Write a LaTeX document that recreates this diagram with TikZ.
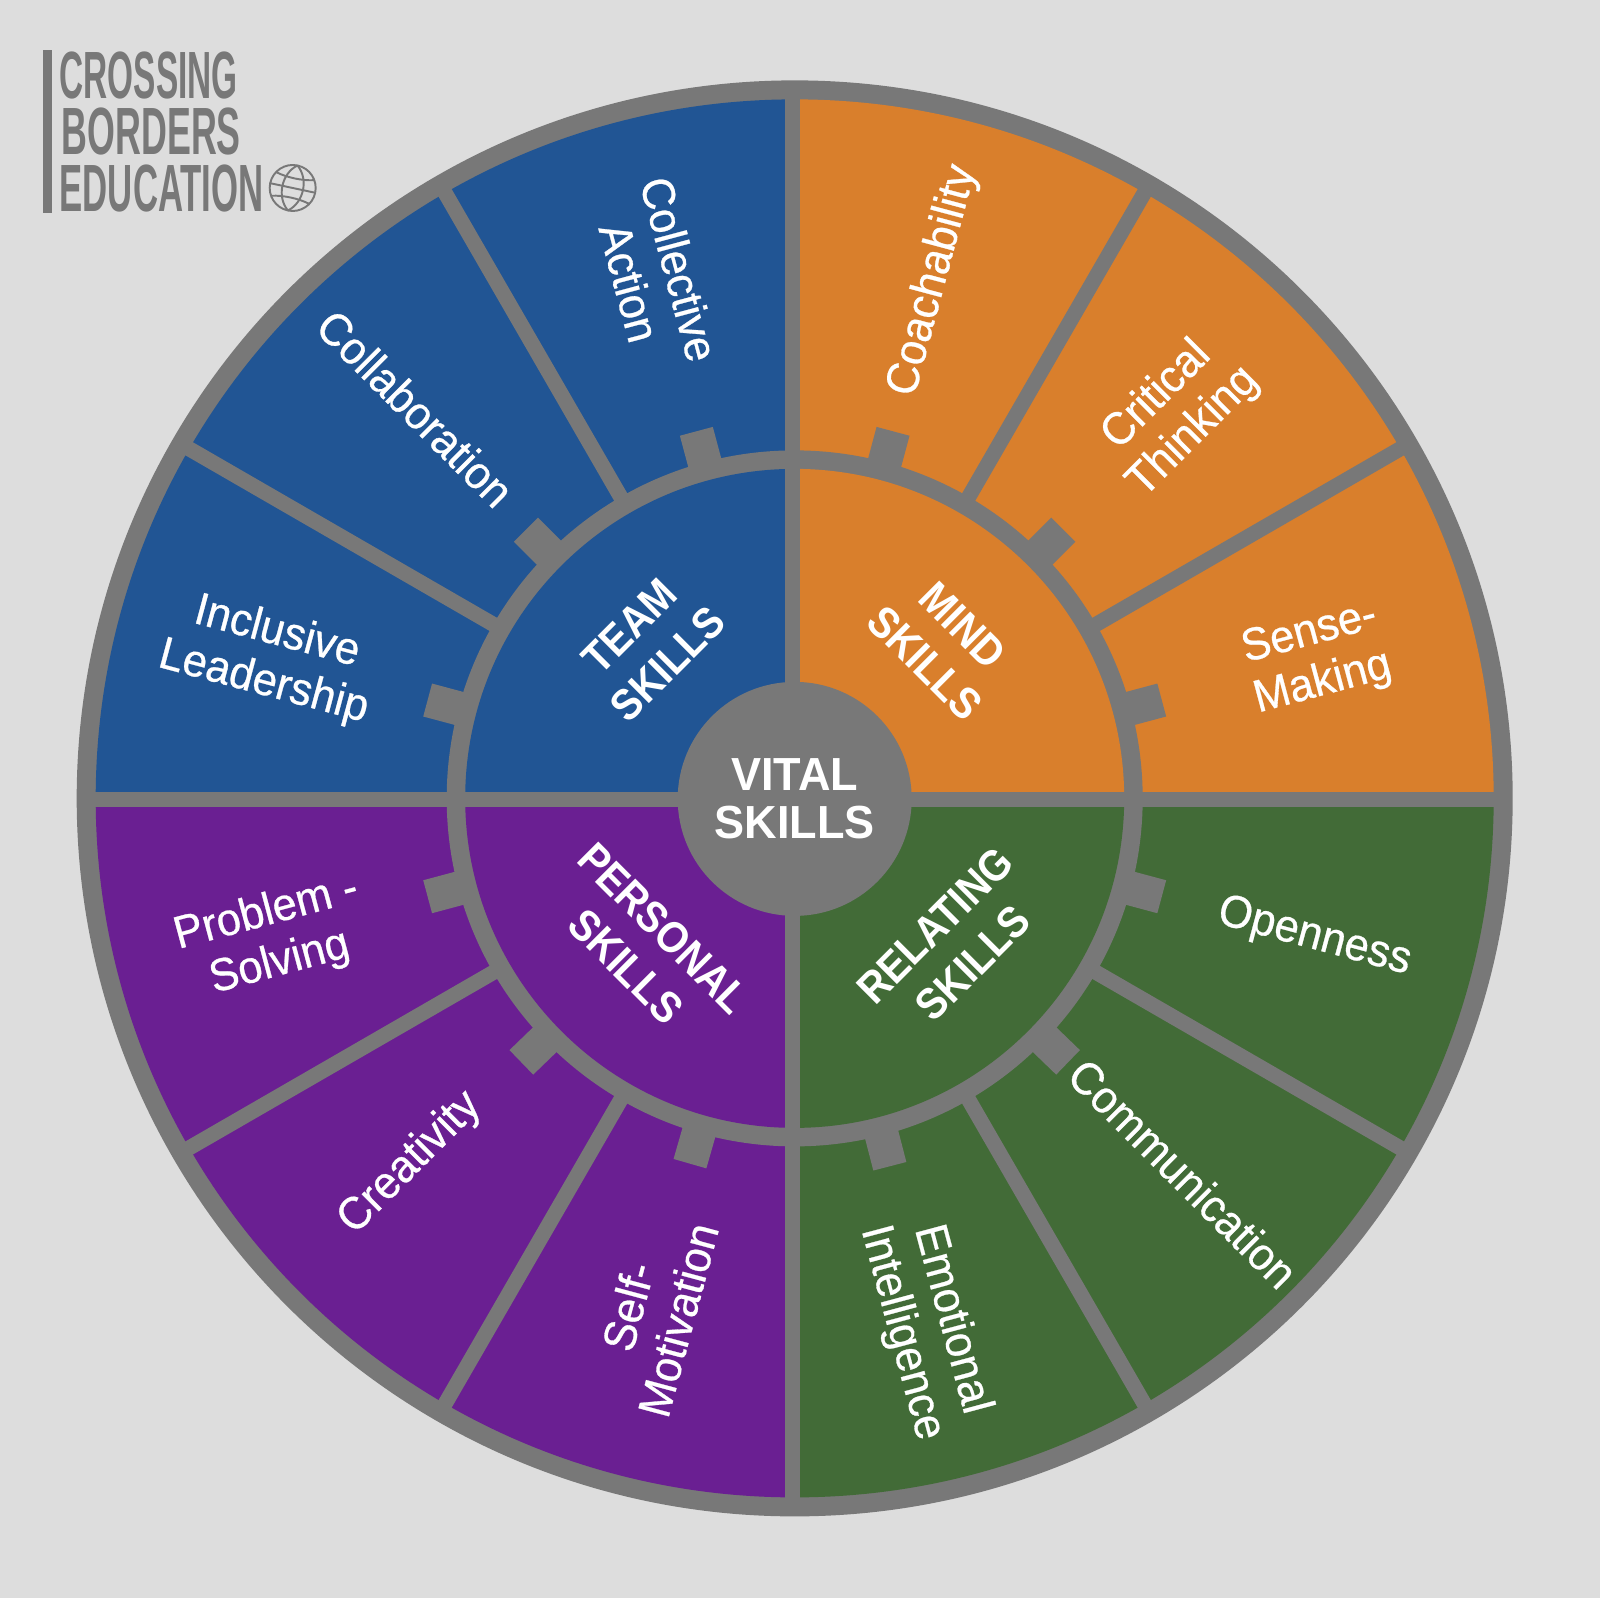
\documentclass[tikz,border=0pt]{standalone}
\usepackage{fontspec}
\setmainfont{Liberation Sans}[FakeBold=0.6, FakeStretch=0.95]
\newfontfamily\centrefont{Liberation Sans Bold}[FakeStretch=0.97]
\newfontfamily\headfont{Liberation Sans Bold}[FakeStretch=0.9]
\newfontfamily\logofont{Liberation Sans Bold}[FakeStretch=0.5]
\newfontfamily\logofontb{Liberation Sans Bold}[FakeStretch=0.536]
\newfontfamily\logofontc{Liberation Sans Bold}[FakeStretch=0.52]
\definecolor{pagegrey}{HTML}{DDDDDD}
\definecolor{wheelgrey}{HTML}{787878}
\definecolor{mindorange}{HTML}{D97F2C}
\definecolor{teamblue}{HTML}{215594}
\definecolor{relatinggreen}{HTML}{426B37}
\definecolor{personalpurple}{HTML}{6A1F92}
\tikzset{
  skill/.style={text=white, align=center, inner sep=0pt, font=\fontsize{13}{14.7}\selectfont},
  heading/.style={text=white, align=center, inner sep=0pt, font=\headfont\fontsize{12.5}{15.2}\selectfont},
  logoline/.style={text=wheelgrey, anchor=west, inner sep=0pt},
  spoke/.style={wheelgrey, line width=4.3pt},
  tab/.style={wheelgrey, line width=9.7pt},
  globeline/.style={wheelgrey, line width=0.55pt}
}
\begin{document}
\begin{tikzpicture}[x=0.01cm, y=0.01cm]
  \useasboundingbox (-794.7,-799.6) rectangle (805.3,798.4);
  \fill[pagegrey] (-794.7,-799.6) rectangle (805.3,798.4);

  % wheel
  \fill[wheelgrey] (0,0) circle (718);
  \fill[mindorange] (0,0) -- (699,0) arc (0:90:699) -- cycle;
  \fill[teamblue] (0,0) -- (0,699) arc (90:180:699) -- cycle;
  \fill[personalpurple] (0,0) -- (-699,0) arc (180:270:699) -- cycle;
  \fill[relatinggreen] (0,0) -- (0,-699) arc (270:360:699) -- cycle;

  % spokes and tabs
  \foreach \ang in {30,60,120,150,210,240,300,330}
    \draw[spoke] (\ang:340) -- (\ang:706);
  \foreach \ang in {15,45,75,105,135,165,195,224,254,284.5,316,345}
    \draw[tab] (\ang:340) -- (\ang:380);

  % inner ring
  \fill[wheelgrey] (0,0) circle (348);
  \fill[mindorange] (0,0) -- (329.5,0) arc (0:90:329.5) -- cycle;
  \fill[teamblue] (0,0) -- (0,329.5) arc (90:180:329.5) -- cycle;
  \fill[personalpurple] (0,0) -- (-329.5,0) arc (180:270:329.5) -- cycle;
  \fill[relatinggreen] (0,0) -- (0,-329.5) arc (270:360:329.5) -- cycle;
  \draw[wheelgrey, line width=4.3pt] (-706,-0.8) -- (706,-0.8);
  \draw[wheelgrey, line width=4.35pt] (-2.4,-706) -- (-2.4,706);
  \fill[wheelgrey] (0,-0.5) circle (117);

  % centre and headings
  \node[heading, font=\centrefont\fontsize{13.2}{13.6}\selectfont] (vital) at (0,0) {VITAL\\SKILLS};
  \node[heading, rotate=-45] (mind) at (149,154) {MIND\\SKILLS};
  \node[heading, rotate=45] (team) at (-146,153) {TEAM\\SKILLS};
  \node[heading, rotate=45] (relating) at (159,-146) {RELATING\\SKILLS};
  \node[heading, rotate=-45] (personal) at (-150,-149) {PERSONAL\\SKILLS};

  % skills
  \node[skill, rotate=75] (coach) at (75:536) {Coachability};
  \node[skill, rotate=45] (critical) at (45.3:541) {Critical\\Thinking};
  \node[skill, rotate=15] (sense) at (15:540) {Sense-\\Making};
  \node[skill, rotate=-15] (open) at (-15:538) {Openness};
  \node[skill, rotate=-45] (comm) at (-44:540) {Communication};
  \node[skill, rotate=-75] (emotion) at (-76:544) {Emotional\\Intelligence};
  \node[skill, rotate=75] (self) at (-105.4:534) {Self-\\Motivation};
  \node[skill, rotate=45] (creative) at (-136.5:530) {Creativity};
  \node[skill, rotate=15] (problem) at (-165:540) {Problem -\\Solving};
  \node[skill, rotate=-15] (inclusive) at (165:543) {Inclusive\\Leadership};
  \node[skill, rotate=-45] (collab) at (134.2:544) {Collaboration};
  \node[skill, rotate=-75] (collect) at (105:541) {Collective\\Action};

  % logo
  \fill[wheelgrey] (-751.4,748.4) rectangle (-742.4,585.4);
  \node[logoline, font=\logofont\fontsize{19}{19}\selectfont] (crossing) at (-735.7,723) {CROSSING};
  \node[logoline, font=\logofontb\fontsize{19}{19}\selectfont] (borders) at (-733.7,666.5) {BORDERS};
  \node[logoline, font=\logofontc\fontsize{19}{19}\selectfont] (education) at (-735.7,609.5) {EDUCATION};
  \begin{scope}[shift={(-502,610.4)}, rotate=-12]
    \draw[globeline] (0,0) circle (23);
    \draw[globeline] (0,23) .. controls (-14,12) and (-14,-12) .. (0,-23);
    \draw[globeline] (0,23) .. controls (14,12) and (14,-12) .. (0,-23);
    \draw[globeline] (-23,0) -- (23,0);
    \draw[globeline] (-19,12) .. controls (-8,9) and (8,9) .. (19,12);
    \draw[globeline] (-19,-12) .. controls (-8,-9) and (8,-9) .. (19,-12);
  \end{scope}
\end{tikzpicture}
\end{document}
